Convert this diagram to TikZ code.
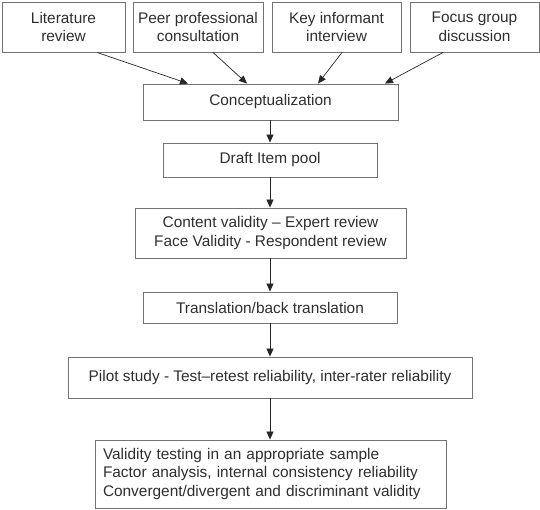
\documentclass[tikz,border=0pt]{standalone}
\usepackage{fontspec}
\setmainfont{Liberation Sans}
\usetikzlibrary{arrows.meta}
\definecolor{boxline}{gray}{0.45}
\definecolor{txt}{gray}{0.18}
\begin{document}
\begin{tikzpicture}[x=1pt,y=-1pt,
  box/.style={draw=boxline, line width=0.9pt, inner sep=0pt, align=center, text=txt,
    font=\fontsize{15.4}{18.5}\selectfont},
  arr/.style={draw=black!85, line width=0.7pt, -{Triangle[length=8pt,width=7pt]}}]
\useasboundingbox (0,0) rectangle (540,509);
\node[box, minimum width=123pt, minimum height=50pt] (lit) at (63.5,27) {Literature\\review};
\node[box, minimum width=130pt, minimum height=50pt] (peer) at (198,27) {Peer professional\\consultation};
\node[box, minimum width=129pt, minimum height=50pt] (key) at (336.5,27) {Key informant\\interview};
\node[box, minimum width=129pt, minimum height=50pt] (focus) at (474.5,27) {Focus group\\discussion};
\node[box, minimum width=255pt, minimum height=36pt] (concept) at (270.5,102) {Conceptualization};
\node[box, minimum width=214pt, minimum height=34pt] (draft) at (270,160) {Draft Item pool};
\node[box, minimum width=271pt, minimum height=50pt] (content) at (270.5,233) {Content validity – Expert review\\Face Validity - Respondent review};
\node[box, minimum width=254pt, minimum height=31pt] (trans) at (270,307.5) {Translation/back translation};
\node[box, minimum width=404pt, minimum height=41pt] (pilot) at (270,377.5) {Pilot study - Test–retest reliability, inter-rater reliability};
\node[box, minimum width=351pt, minimum height=68pt, align=left, text width=335pt] (final) at (270.5,474) {Validity testing in an appropriate sample\\Factor analysis, internal consistency reliability\\Convergent/divergent and discriminant validity};
\draw[arr] ([xshift=33.5pt]lit.south) -- ([xshift=-82.5pt]concept.north);
\draw[arr] ([xshift=15pt]peer.south) -- ([xshift=-23.5pt]concept.north);
\draw[arr] ([xshift=5.5pt]key.south) -- ([xshift=47.5pt]concept.north);
\draw[arr] ([xshift=-31.5pt]focus.south) -- ([xshift=114.5pt]concept.north);
\draw[arr] ([xshift=-0.5pt]concept.south) -- (draft.north);
\draw[arr] (draft.south) -- ([xshift=-0.5pt]content.north);
\draw[arr] ([xshift=-0.5pt]content.south) -- (trans.north);
\draw[arr] (trans.south) -- (pilot.north);
\draw[arr] (pilot.south) -- ([xshift=-0.5pt]final.north);
\end{tikzpicture}
\end{document}
